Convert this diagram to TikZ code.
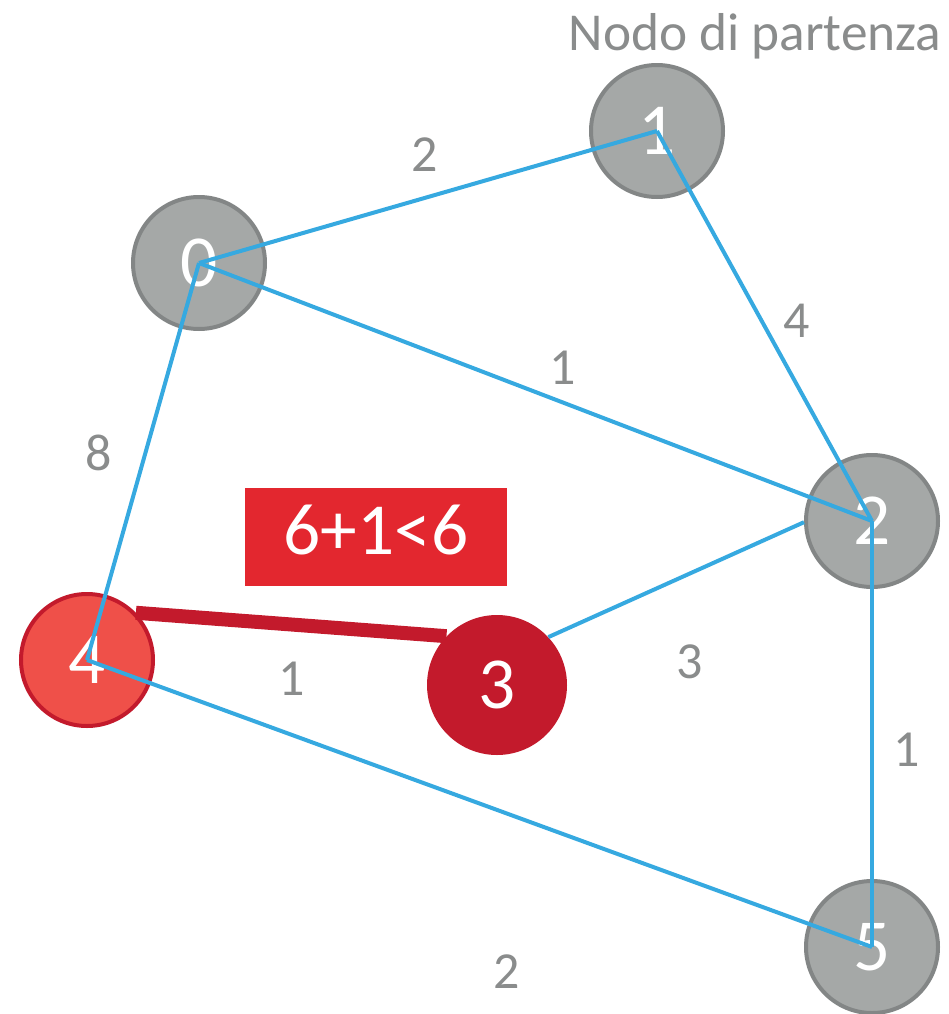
\documentclass[tikz,border=0pt]{standalone}
\usepackage{fontspec}
\setmainfont{Carlito}
\definecolor{nodegray}{HTML}{A5A8A7}
\definecolor{nodeborder}{HTML}{838686}
\definecolor{labgray}{HTML}{8A8C8C}
\definecolor{edgeblue}{HTML}{36A9E0}
\definecolor{boxred}{HTML}{E3272F}
\definecolor{lightred}{HTML}{EF5049}
\definecolor{darkred}{HTML}{C31A2C}
\tikzset{
  graynode/.style={circle, fill=nodegray, draw=nodeborder, line width=3pt, minimum size=99pt, inner sep=0pt, text=white, font=\fontsize{55}{60}\selectfont},
  rednodeA/.style={circle, fill=lightred, draw=darkred, line width=3pt, minimum size=99pt, inner sep=0pt, text=white, font=\fontsize{55}{60}\selectfont},
  rednodeB/.style={circle, fill=darkred, minimum size=105pt, inner sep=0pt, text=white, font=\fontsize{55}{60}\selectfont},
  edgelab/.style={inner sep=0pt, text=labgray, font=\fontsize{39}{44}\selectfont},
  edgeline/.style={draw=edgeblue, line width=3pt},
}
\begin{document}
\begin{tikzpicture}[x=0.75pt,y=-0.75pt]
\useasboundingbox (0,0) rectangle (949,1014);
% title
\node[anchor=base, inner sep=0pt, text=labgray, font=\fontsize{40}{48}\selectfont] (title) at (755,50) {Nodo di partenza};
% nodes
\node[graynode] (n0) at (199,263) {0};
\node[graynode] (n1) at (657,131) {1};
\node[graynode] (n2) at (872,521) {2};
\node[graynode] (n5) at (872,947) {5};
\node[rednodeA] (n4) at (87,660) {4};
% edges
\draw[edgeline] (n0.center) -- (n1.center);
\draw[edgeline] (n1.center) -- (n2.center);
\draw[edgeline] (n0.center) -- (n2.center);
\draw[edgeline] (n0.center) -- (n4.center);
\draw[edgeline] (n4.center) -- (n5.center);
\draw[edgeline] (n2.center) -- (n5.center);
\node[rednodeB] (n3) at (497,685) {3};
\draw[edgeline] (n3.43) -- (n2.181);
\draw[draw=darkred, line width=10.5pt] (n4.44) -- (n3.136);
% edge labels
\node[edgelab] (l01) at (425,155) {2};
\node[edgelab] (l12) at (797,321) {4};
\node[edgelab] (l02) at (563,368) {1};
\node[edgelab] (l04) at (99,453) {8};
\node[edgelab] (l43) at (292,679) {1};
\node[edgelab] (l32) at (690,662) {3};
\node[edgelab] (l25) at (907,750) {1};
\node[edgelab] (l45) at (507,972) {2};
% box
\node[fill=boxred, text=white, minimum width=196.5pt, minimum height=73.5pt, inner sep=0pt, text depth=10.5pt, font=\fontsize{55}{60}\selectfont] (box) at (376,537) {6+1<6};
\end{tikzpicture}
\end{document}
